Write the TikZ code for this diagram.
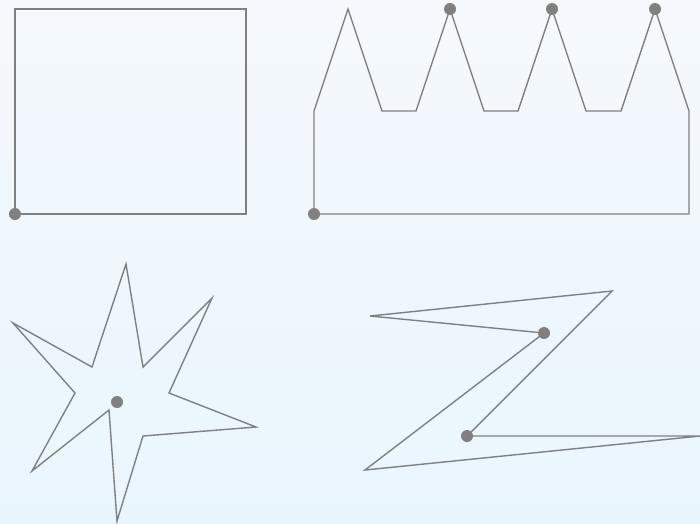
\documentclass[tikz,border=0pt]{standalone}
\begin{document}
\begin{tikzpicture}[x=1pt,y=-1pt,
  shape line/.style={draw={rgb,255:red,128;green,128;blue,128},line width=1.4pt,line join=miter},
  dotmark/.style={fill={rgb,255:red,128;green,128;blue,128}}]
\shade[top color={rgb,255:red,245;green,249;blue,253},bottom color={rgb,255:red,233;green,245;blue,253}] (0,0) rectangle (700,523);
\useasboundingbox (0,0) rectangle (700,523);
% square
\draw[shape line] (15,214) -- (15,9) -- (246,9) -- (246,214) -- cycle;
\fill[dotmark] (15,214) circle (6);
% crown
\draw[shape line] (314,214) -- (314,111) -- (348,9) -- (382,111) -- (416,111) -- (450,9) -- (484,111) -- (518,111) -- (552,9) -- (586,111) -- (621,111) -- (655,9) -- (689,111) -- (689,214) -- cycle;
\foreach \p in {(314,214),(450,9),(552,9),(655,9)} \fill[dotmark] \p circle (6);
% star
\draw[shape line] (126,264) -- (143,367) -- (212,298) -- (169,393) -- (256,427) -- (143,436) -- (117,521) -- (109,410) -- (32,471) -- (75,393) -- (13,323) -- (92,367) -- cycle;
\fill[dotmark] (117,402) circle (6);
% Z
\draw[shape line] (370,316) -- (612,291) -- (467,436) -- (700,436) -- (365,470) -- (544,333) -- cycle;
\fill[dotmark] (544,333) circle (6);
\fill[dotmark] (467,436) circle (6);
\end{tikzpicture}
\end{document}
